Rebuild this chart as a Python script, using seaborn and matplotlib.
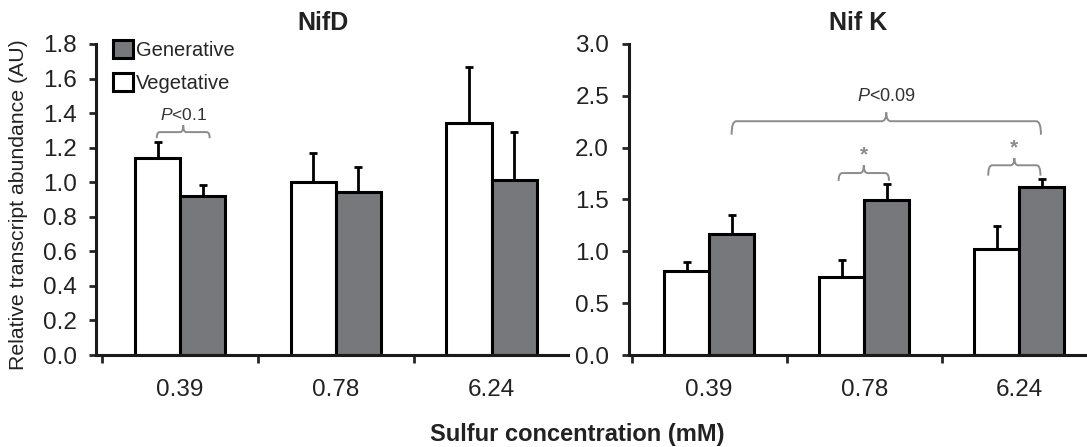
import numpy as np
import pandas as pd
import seaborn as sns
import matplotlib.pyplot as plt
from matplotlib.patches import Patch, PathPatch
from matplotlib.path import Path

# sulfur concentration (mM) and the two developmental stages
conc = ["0.39", "0.78", "6.24"]
stages = ["Vegetative", "Generative"]

# NifD relative transcript abundance (mean, upper error)
nifd_veg = [1.14, 1.00, 1.34]
nifd_veg_err = [0.09, 0.17, 0.325]
nifd_gen = [0.92, 0.945, 1.01]
nifd_gen_err = [0.065, 0.145, 0.28]

# NifK relative transcript abundance
nifk_veg = [0.81, 0.75, 1.02]
nifk_veg_err = [0.09, 0.17, 0.22]
nifk_gen = [1.165, 1.495, 1.62]
nifk_gen_err = [0.19, 0.15, 0.08]

GEN_GREY = "#77787b"
palette = {"Vegetative": "white", "Generative": GEN_GREY}

sns.set_style("ticks")
plt.rcParams["font.family"] = ["Liberation Sans", "DejaVu Sans"]
plt.rcParams["mathtext.fontset"] = "custom"
plt.rcParams["mathtext.rm"] = "Liberation Sans"
plt.rcParams["mathtext.it"] = "Liberation Sans:italic"


def make_df(veg, gen):
    return pd.DataFrame({
        "conc": conc * 2,
        "stage": ["Vegetative"] * 3 + ["Generative"] * 3,
        "value": list(veg) + list(gen),
    })


def brace(ax, x0, x1, y, drop, rise, dx):
    xm = (x0 + x1) / 2
    verts = [(x0, y - drop), (x0, y), (x0 + dx, y), (xm - dx, y), (xm, y), (xm, y + rise),
             (xm, y + rise), (xm, y), (xm + dx, y), (x1 - dx, y), (x1, y), (x1, y - drop)]
    codes = [Path.MOVETO, Path.CURVE3, Path.CURVE3, Path.LINETO, Path.CURVE3, Path.CURVE3,
             Path.MOVETO, Path.CURVE3, Path.CURVE3, Path.LINETO, Path.CURVE3, Path.CURVE3]
    ax.add_patch(PathPatch(Path(verts, codes), fill=False, edgecolor="#8c8c8c", lw=1.4,
                           zorder=4))


def panel(ax, veg, veg_err, gen, gen_err, title, yticks, xlim):
    df = make_df(veg, gen)
    sns.barplot(data=df, x="conc", y="value", hue="stage", hue_order=stages,
                palette=palette, width=0.58, edgecolor="black", linewidth=2.2,
                errorbar=None, legend=False, ax=ax)
    bars = [list(c) for c in ax.containers]
    centers = [[b.get_x() + b.get_width() / 2 for b in c] for c in bars]
    for c, xs, err in zip(bars, centers, [veg_err, gen_err]):
        hs = [b.get_height() for b in c]
        ax.errorbar(xs, hs, yerr=[np.zeros(len(err)), err], fmt="none", ecolor="black",
                    elinewidth=2, capsize=3, capthick=2, zorder=1)
    ax.set_ylim(yticks[0], yticks[-1])
    ax.set_yticks(yticks)
    ax.set_yticklabels([f"{t:.1f}" for t in yticks])
    ax.set_xlim(*xlim)
    ax.set_xticks(range(len(conc)))
    ax.set_xticklabels(conc)
    ax.set_xticks([-0.5, 0.5, 1.5], minor=True)
    ax.tick_params(axis="x", which="major", length=0, pad=17, labelsize=17.5,
                   labelcolor="#222222")
    ax.tick_params(axis="x", which="minor", length=6, width=2, direction="out")
    ax.tick_params(axis="y", length=5, width=2, direction="out", pad=9, labelsize=17.5,
                   labelcolor="#222222")
    ax.set_xlabel("")
    ax.set_ylabel("")
    ax.set_title(title, fontsize=18, fontweight="bold", pad=10, color="#222222")
    for s in ["left", "bottom"]:
        ax.spines[s].set_linewidth(2.2)
        ax.spines[s].set_color("#1a1a1a")
    sns.despine(ax=ax)
    return centers


fig = plt.figure(figsize=(10.87, 4.47), dpi=100)
ax1 = fig.add_axes([0.0883, 0.2058, 0.4342, 0.6958])
ax2 = fig.add_axes([0.5782, 0.2058, 0.4218, 0.6958])

cx1 = panel(ax1, nifd_veg, nifd_veg_err, nifd_gen, nifd_gen_err, "NifD",
            np.arange(0, 1.81, 0.2), (-0.54, 2.49))
cx2 = panel(ax2, nifk_veg, nifk_veg_err, nifk_gen, nifk_gen_err, "Nif K",
            np.arange(0, 3.01, 0.5), (-0.52, 2.437))
ax1.title.set_x(0.481)

ax1.set_ylabel("Relative transcript abundance (AU)", fontsize=15.3, color="#222222")
ax1.yaxis.set_label_coords(-0.145, 0.483)
fig.text(0.531, 0.029, "Sulfur concentration (mM)", ha="center", va="center",
         fontsize=17, fontweight="bold", color="#222222")

# legend: Generative above Vegetative
handles = [Patch(facecolor=palette[s], edgecolor="black", linewidth=2.2) for s in stages[::-1]]
ax1.legend(handles, stages[::-1], loc="upper left", bbox_to_anchor=(0.035, 1.012),
           frameon=False, fontsize=14.5, handlelength=1.0, handleheight=1.0,
           handletextpad=0.15, labelspacing=0.62, borderaxespad=0, borderpad=0)

# significance annotations
brace(ax1, cx1[0][0] - 0.005, cx1[1][0] + 0.045, 1.29, 0.035, 0.04, 0.02)
ax1.text((cx1[0][0] + cx1[1][0] + 0.04) / 2, 1.39, r"$\mathit{P}$<0.1", ha="center",
         va="center", fontsize=12.5, color="#333333")

brace(ax2, cx2[1][0], cx2[1][2] - 0.005, 2.255, 0.13, 0.085, 0.03)
ax2.text((cx2[1][0] + cx2[1][2]) / 2, 2.49, r"$\mathit{P}$<0.09", ha="center",
         va="center", fontsize=13, color="#333333")

for i, (lo, hi, y, drop, rise, ystar) in enumerate([(-0.02, 0.015, 1.755, 0.075, 0.075, 1.93),
                                                     (-0.055, -0.008, 1.83, 0.10, 0.07, 2.0)]):
    k = i + 1
    x0, x1 = cx2[0][k] + lo, cx2[1][k] + hi
    brace(ax2, x0, x1, y, drop, rise, 0.025)
    ax2.text((x0 + x1) / 2, ystar, "*", ha="center", va="center", fontsize=15,
             fontweight="bold", color="#8c8c8c")

fig.savefig("out.png", dpi=100)
